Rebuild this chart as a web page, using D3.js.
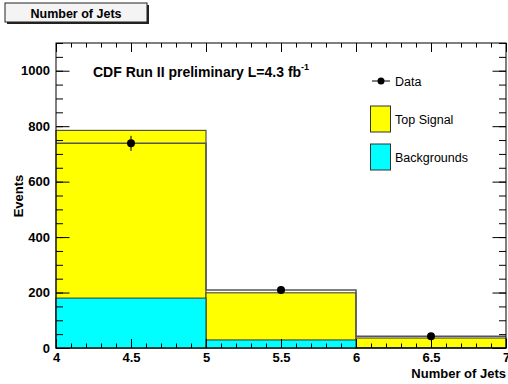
<!DOCTYPE html>
<html>
<head>
<meta charset="utf-8">
<script src="https://cdn.jsdelivr.net/npm/d3@7"></script>
<style>
  body { margin: 0; background: #fff; }
  text { font-family: "Liberation Sans", Helvetica, Arial, sans-serif; }
</style>
</head>
<body>
<svg id="chart"></svg>
<script>
const width = 508;
const height = 384;

// histogram data (bins of Number of Jets)
const binEdges = [4, 5, 6, 7];
const backgrounds = [180, 29, 1];
const topSignal = [605, 170, 35];
const dataCounts = [738, 209, 42];
const xTicks = [4, 4.5, 5, 5.5, 6, 6.5, 7];
const yTicks = [0, 200, 400, 600, 800, 1000];

const svg = d3.select("#chart")
    .attr("width", width)
    .attr("height", height);

const plotLeft = 56, plotRight = 506, plotTop = 43, plotBottom = 348;

const x = d3.scaleLinear().domain([4, 7]).range([plotLeft, plotRight]);
const y = d3.scaleLinear().domain([0, 1100]).range([plotBottom, plotTop]);

// title box
svg.append("rect").attr("x", 7).attr("y", 5).attr("width", 142).attr("height", 19).attr("fill", "#222");
svg.append("rect").attr("x", 5).attr("y", 3).attr("width", 142).attr("height", 19)
    .attr("fill", "#f4f4f4").attr("stroke", "#222").attr("stroke-width", 1);
svg.append("text").attr("x", 76).attr("y", 17.5).attr("text-anchor", "middle")
    .attr("font-weight", "bold").attr("font-size", 12.5).text("Number of Jets");

const bins = binEdges.slice(0, -1).map((e, i) => ({
    x0: e, x1: binEdges[i + 1],
    bkg: backgrounds[i], sig: topSignal[i], data: dataCounts[i]
}));

// stacked histograms
svg.selectAll(".sig").data(bins).enter().append("rect")
    .attr("x", d => x(d.x0)).attr("width", d => x(d.x1) - x(d.x0))
    .attr("y", d => y(d.bkg + d.sig)).attr("height", d => y(0) - y(d.bkg + d.sig))
    .attr("fill", "#ffff00").attr("stroke", "#333").attr("stroke-width", 1);

svg.selectAll(".bkg").data(bins).enter().append("rect")
    .attr("x", d => x(d.x0)).attr("width", d => x(d.x1) - x(d.x0))
    .attr("y", d => y(d.bkg)).attr("height", d => y(0) - y(d.bkg))
    .attr("fill", "#00ffff").attr("stroke", "#333").attr("stroke-width", 1);

// data histogram outline
const stepLine = d3.line().x(d => x(d[0])).y(d => y(d[1]));
const steps = [];
bins.forEach(d => { steps.push([d.x0, d.data]); steps.push([d.x1, d.data]); });
svg.append("path").attr("d", stepLine(steps))
    .attr("fill", "none").attr("stroke", "#555").attr("stroke-width", 1.5);

// data points with sqrt(N) errors
svg.selectAll(".err").data(bins).enter().append("line")
    .attr("x1", d => x((d.x0 + d.x1) / 2)).attr("x2", d => x((d.x0 + d.x1) / 2))
    .attr("y1", d => y(d.data + Math.sqrt(d.data))).attr("y2", d => y(d.data - Math.sqrt(d.data)))
    .attr("stroke", "#000").attr("stroke-width", 1);
svg.selectAll(".pt").data(bins).enter().append("circle")
    .attr("cx", d => x((d.x0 + d.x1) / 2)).attr("cy", d => y(d.data))
    .attr("r", 4).attr("fill", "#000");

// axes with ROOT style inward ticks
function minorValues(a, b, step) {
    const v = [];
    for (let t = a; t <= b + 1e-9; t += step) v.push(+t.toFixed(4));
    return v;
}
const xMinor = minorValues(4, 7, 0.1);
const yMinor = minorValues(0, 1100, 50);

function styleAxis(g) {
    g.select(".domain").remove();
    g.selectAll("line").attr("stroke", "#000");
    g.selectAll("text").attr("font-weight", "bold").attr("font-size", 13).attr("fill", "#000");
}

svg.append("g").attr("transform", `translate(0,${plotBottom})`)
    .call(d3.axisBottom(x).tickValues(xMinor).tickSize(-4.5).tickFormat(""))
    .call(styleAxis);
svg.append("g").attr("transform", `translate(0,${plotBottom})`)
    .call(d3.axisBottom(x).tickValues(xTicks).tickSize(-9).tickPadding(5).tickFormat(d3.format("")))
    .call(styleAxis);
svg.append("g").attr("transform", `translate(0,${plotTop})`)
    .call(d3.axisTop(x).tickValues(xMinor).tickSize(-4.5).tickFormat(""))
    .call(styleAxis);
svg.append("g").attr("transform", `translate(0,${plotTop})`)
    .call(d3.axisTop(x).tickValues(xTicks).tickSize(-9).tickFormat(""))
    .call(styleAxis);

svg.append("g").attr("transform", `translate(${plotLeft},0)`)
    .call(d3.axisLeft(y).tickValues(yMinor).tickSize(-7).tickFormat(""))
    .call(styleAxis);
svg.append("g").attr("transform", `translate(${plotLeft},0)`)
    .call(d3.axisLeft(y).tickValues(yTicks).tickSize(-13.5).tickPadding(6).tickFormat(d3.format("")))
    .call(styleAxis);
svg.append("g").attr("transform", `translate(${plotRight},0)`)
    .call(d3.axisRight(y).tickValues(yMinor).tickSize(-7).tickFormat(""))
    .call(styleAxis);
svg.append("g").attr("transform", `translate(${plotRight},0)`)
    .call(d3.axisRight(y).tickValues(yTicks).tickSize(-13.5).tickFormat(""))
    .call(styleAxis);

// frame
svg.append("rect").attr("x", plotLeft).attr("y", plotTop)
    .attr("width", plotRight - plotLeft).attr("height", plotBottom - plotTop)
    .attr("fill", "none").attr("stroke", "#000").attr("stroke-width", 1);

// axis titles
svg.append("text").attr("x", plotRight).attr("y", 378).attr("text-anchor", "end")
    .attr("font-weight", "bold").attr("font-size", 13).text("Number of Jets");
svg.append("text").attr("transform", "translate(23,196) rotate(-90)").attr("text-anchor", "middle")
    .attr("font-weight", "bold").attr("font-size", 13).text("Events");

// CDF label
const lab = svg.append("text").attr("x", 93).attr("y", 77)
    .attr("font-weight", "bold").attr("font-size", 14);
lab.append("tspan").text("CDF Run II preliminary L=4.3 fb");
lab.append("tspan").attr("dy", -7).attr("font-size", 9).text("-1");

// legend
const legend = svg.append("g");
legend.append("line").attr("x1", 372).attr("x2", 390).attr("y1", 81).attr("y2", 81)
    .attr("stroke", "#000").attr("stroke-width", 1);
legend.append("circle").attr("cx", 381).attr("cy", 81).attr("r", 3.5).attr("fill", "#000");
legend.append("text").attr("x", 395).attr("y", 85.5).attr("font-size", 12.5).text("Data");

const legItems = [["Top Signal", "#ffff00", 106], ["Backgrounds", "#00ffff", 144]];
legItems.forEach(([name, col, yy]) => {
    legend.append("rect").attr("x", 370.5).attr("y", yy).attr("width", 20).attr("height", 26)
        .attr("fill", col).attr("stroke", "#333").attr("stroke-width", 1);
    legend.append("text").attr("x", 395).attr("y", yy + 18).attr("font-size", 12.5).text(name);
});
</script>
</body>
</html>
